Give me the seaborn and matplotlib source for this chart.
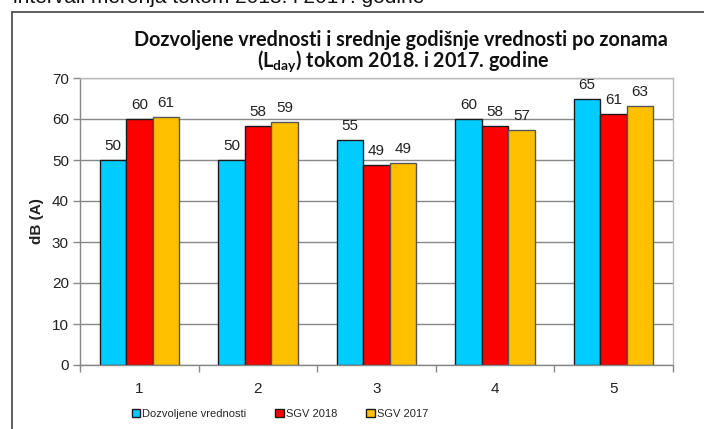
import matplotlib
matplotlib.use("Agg")
import matplotlib.pyplot as plt
from matplotlib.lines import Line2D
from matplotlib.patches import Patch
import seaborn as sns
import pandas as pd

zones = ["1", "2", "3", "4", "5"]
dozvoljene = [50, 50, 55, 60, 65]
sgv_2018 = [60.1, 58.3, 48.9, 58.2, 61.2]
sgv_2017 = [60.6, 59.3, 49.3, 57.4, 63.1]
series = ["Dozvoljene vrednosti", "SGV 2018", "SGV 2017"]
colors = ["#00CCFF", "#FF0000", "#FFC000"]
edges = ["#1a1a1a", "#1a1a1a", "#555555"]
y_ticks = [0, 10, 20, 30, 40, 50, 60, 70]

sns.set_theme(style="white")
plt.rcParams["font.family"] = ["Liberation Sans", "DejaVu Sans"]
plt.rcParams["mathtext.fontset"] = "custom"
plt.rcParams["mathtext.bf"] = "Lato:bold"
plt.rcParams["mathtext.rm"] = "Lato:bold"

df = pd.DataFrame({
    "zone": zones * 3,
    "value": dozvoljene + sgv_2018 + sgv_2017,
    "series": [series[0]] * 5 + [series[1]] * 5 + [series[2]] * 5,
})

fig = plt.figure(figsize=(7.04, 4.29), dpi=100)
ax = fig.add_axes([80 / 704, 1 - 365 / 429, (673 - 80) / 704, (365 - 78) / 429])

sns.barplot(data=df, x="zone", y="value", hue="series", order=zones,
            hue_order=series, palette=colors, width=0.67, gap=0,
            edgecolor="#1a1a1a", linewidth=1, ax=ax, legend=False,
            errorbar=None, saturation=1)

for cont, ec in zip(ax.containers, edges):
    for p in cont:
        p.set_edgecolor(ec)
    ax.bar_label(cont, fmt="%.0f", padding=5, fontsize=11, color="#222222")

ax.set_ylim(0, 70)
ax.set_xlim(-0.5, 4.5)
ax.set_yticks(y_ticks)
ax.set_yticklabels([str(v) for v in y_ticks], fontsize=11, color="#222222")
ax.set_xticks(range(5))
ax.set_xticklabels(zones, fontsize=11, color="#222222")
ax.set_xticks([i - 0.5 for i in range(6)], minor=True)
ax.tick_params(axis="x", which="major", length=0, pad=12)
ax.tick_params(axis="x", which="minor", length=5, width=1, color="#888888", direction="out", bottom=True)
ax.tick_params(axis="y", length=5, width=1, color="#888888", direction="out", left=True, pad=3)
ax.set_xlabel("")
ax.set_ylabel("dB (A)", fontsize=11, fontweight="bold", color="#222222", labelpad=6)
ax.grid(axis="y", color="#888888", linewidth=1)
ax.set_axisbelow(True)
for s in ["left", "bottom"]:
    ax.spines[s].set_color("#888888")
    ax.spines[s].set_linewidth(1)
for s in ["top", "right"]:
    ax.spines[s].set_color("#bbbbbb")
    ax.spines[s].set_linewidth(1)

handles = [Patch(facecolor=c, edgecolor="#1a1a1a", linewidth=1) for c in colors]
fig.legend(handles, series, loc="center left", bbox_to_anchor=(124 / 704, 1 - 414 / 429),
           ncol=3, frameon=False, handlelength=0.75, handleheight=0.75,
           handletextpad=0.2, columnspacing=2.6, borderpad=0.2,
           prop={"family": "Liberation Sans", "size": 8})

fig.text(401 / 704, 1 - 40 / 429, "Dozvoljene vrednosti i srednje godišnje vrednosti po zonama",
         ha="center", va="center", fontsize=14.2, fontweight="bold", family="Lato", color="#111111")
fig.text(403 / 704, 1 - 61 / 429, r"(L$_{\mathbf{day}}$) tokom 2018. i 2017. godine",
         ha="center", va="center", fontsize=14.2, fontweight="bold", family="Lato", color="#111111")

# cut-off text above the chart box
fig.text(13 / 704, 1 - 3 / 429, "intervali merenja tokom 2018. i 2017. godine",
         ha="left", va="baseline", fontsize=15, color="#111111")

# chart box border
fig.add_artist(Line2D([12 / 704, 12 / 704], [0, 1 - 12 / 429], color="#444444", linewidth=1.2))
fig.add_artist(Line2D([12 / 704, 1], [1 - 12 / 429, 1 - 12 / 429], color="#444444", linewidth=1.2))

fig.savefig("out.png", dpi=100)
